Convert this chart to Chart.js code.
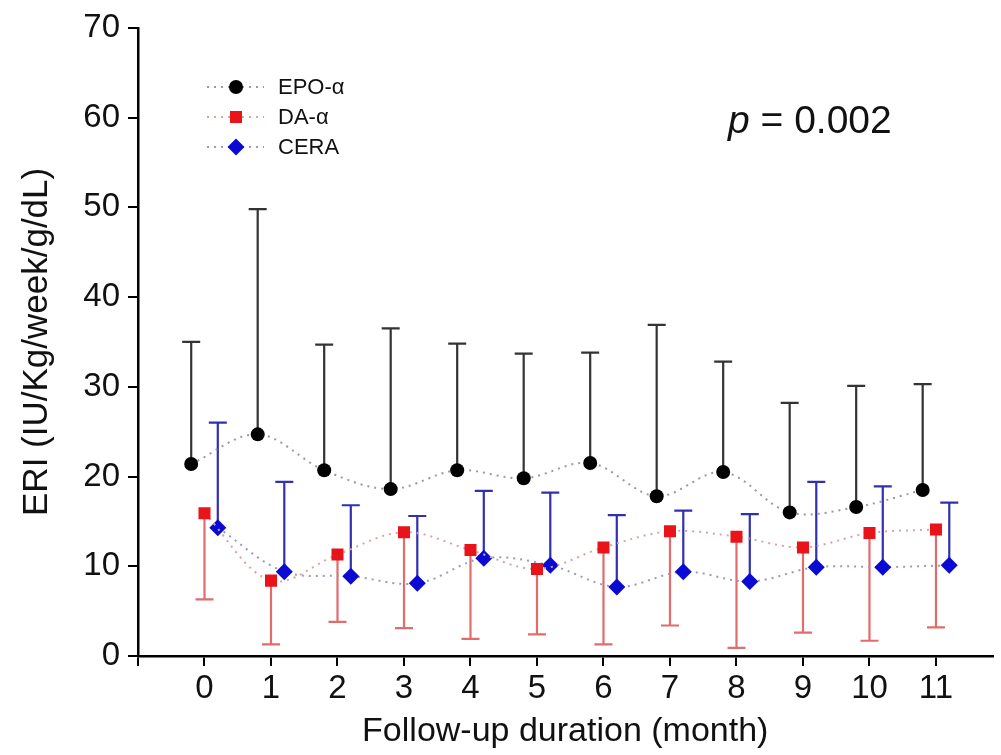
<!DOCTYPE html>
<html>
<head>
<meta charset="utf-8">
<script src="https://cdn.jsdelivr.net/npm/chart.js@4/dist/chart.umd.min.js"></script>
<style>
  html, body { margin: 0; padding: 0; background: #fff; }
  #chart { display: block; }
</style>
</head>
<body>
<canvas id="chart" width="1001" height="755"></canvas>
<script>
'use strict';

// Follow-up months and group values.
var months = [0, 1, 2, 3, 4, 5, 6, 7, 8, 9, 10, 11];
var epoMean  = [21.4, 24.7, 20.7, 18.6, 20.7, 19.8, 21.5, 17.8, 20.5, 16.0, 16.6, 18.5];
var epoUpper = [35.0, 49.8, 34.7, 36.5, 34.8, 33.7, 33.8, 36.9, 32.8, 28.2, 30.1, 30.3];
var daMean   = [15.9, 8.4, 11.3, 13.8, 11.8, 9.7, 12.1, 13.9, 13.3, 12.1, 13.7, 14.1];
var daLower  = [6.3, 1.3, 3.8, 3.1, 1.9, 2.4, 1.3, 3.4, 0.9, 2.6, 1.7, 3.2];
var ceraMean  = [14.3, 9.4, 8.9, 8.1, 10.9, 10.1, 7.7, 9.4, 8.3, 9.9, 9.9, 10.1];
var ceraUpper = [26.0, 19.4, 16.8, 15.6, 18.4, 18.2, 15.7, 16.2, 15.8, 19.4, 18.9, 17.1];
var yTicks = [0, 10, 20, 30, 40, 50, 60, 70];

var FONT = '"Liberation Sans", Arial, sans-serif';

// small horizontal dodge so the three groups don't overlap
function points(values, shift) {
  return values.map(function (v, i) { return { x: months[i] + shift, y: v }; });
}

var errorBars = {
  id: 'errorBars',
  beforeDatasetsDraw: function (chart) {
    var ctx = chart.ctx;
    var x = chart.scales.x, y = chart.scales.y;
    ctx.save();
    chart.data.datasets.forEach(function (ds) {
      ctx.strokeStyle = ds.errColor;
      ctx.lineWidth = 2.2;
      ds.errEnd.forEach(function (v, i) {
        var px = x.getPixelForValue(ds.data[i].x);
        var p0 = y.getPixelForValue(ds.data[i].y);
        var p1 = y.getPixelForValue(v);
        ctx.beginPath();
        ctx.moveTo(px, p0);
        ctx.lineTo(px, p1);
        ctx.moveTo(px - 9, p1);
        ctx.lineTo(px + 9, p1);
        ctx.stroke();
      });
    });
    ctx.restore();
  }
};

function drawMarker(ctx, style, r, cx, cy) {
  ctx.beginPath();
  if (style === 'circle') {
    ctx.arc(cx, cy, r, 0, Math.PI * 2);
  } else if (style === 'rect') {
    var s = r * Math.SQRT1_2;
    ctx.rect(cx - s, cy - s, s * 2, s * 2);
  } else {
    ctx.moveTo(cx, cy - r);
    ctx.lineTo(cx + r, cy);
    ctx.lineTo(cx, cy + r);
    ctx.lineTo(cx - r, cy);
    ctx.closePath();
  }
  ctx.fill();
}

// legend with dotted line + marker, and the p value note
var notes = {
  id: 'notes',
  afterDraw: function (chart) {
    var ctx = chart.ctx;
    ctx.save();
    chart.data.datasets.forEach(function (ds, i) {
      var ly = 87 + i * 30;
      ctx.strokeStyle = ds.borderColor;
      ctx.lineWidth = 2;
      ctx.setLineDash([2, 5]);
      ctx.beginPath();
      ctx.moveTo(207, ly);
      ctx.lineTo(264, ly);
      ctx.stroke();
      ctx.setLineDash([]);
      ctx.fillStyle = ds.pointBackgroundColor;
      drawMarker(ctx, ds.pointStyle, ds.pointRadius, 236, ly);
      ctx.fillStyle = '#111';
      ctx.font = '22px ' + FONT;
      ctx.textBaseline = 'middle';
      ctx.fillText(ds.label, 278, ly + 1);
    });
    ctx.textBaseline = 'alphabetic';
    ctx.font = 'italic 39px ' + FONT;
    ctx.fillText('p', 728, 133);
    var w = ctx.measureText('p').width;
    ctx.font = '39px ' + FONT;
    ctx.fillText(' = 0.002', 728 + w, 133);
    ctx.restore();
  }
};

new Chart(document.getElementById('chart'), {
  type: 'scatter',
  data: {
    datasets: [
      {
        label: 'EPO-\u03b1', data: points(epoMean, -0.2), errEnd: epoUpper, errColor: '#333333',
        showLine: true, tension: 0.35, borderColor: '#9a9a9a', borderWidth: 2, borderDash: [2, 5],
        pointStyle: 'circle', pointRadius: 7, pointBackgroundColor: '#000', pointBorderWidth: 0
      },
      {
        label: 'DA-\u03b1', data: points(daMean, 0), errEnd: daLower, errColor: '#e06c6c',
        showLine: true, tension: 0.35, borderColor: '#d9a3a3', borderWidth: 2, borderDash: [2, 5],
        pointStyle: 'rect', pointRadius: 8.5, pointBackgroundColor: '#e8141a', pointBorderWidth: 0
      },
      {
        label: 'CERA', data: points(ceraMean, 0.2), errEnd: ceraUpper, errColor: '#3030b0',
        showLine: true, tension: 0.35, borderColor: '#9a9ab8', borderWidth: 2, borderDash: [2, 5],
        pointStyle: 'rectRot', pointRadius: 8.5, pointBackgroundColor: '#0a0ad2', pointBorderWidth: 0
      }
    ]
  },
  options: {
    responsive: false,
    animation: false,
    devicePixelRatio: 1,
    layout: { padding: { top: 26, right: 1, left: 0, bottom: 0 } },
    plugins: { legend: { display: false }, tooltip: { enabled: false } },
    scales: {
      x: {
        type: 'linear', min: -1, max: 11.85,
        afterBuildTicks: function (scale) {
          scale.ticks = [{ value: -1 }].concat(months.map(function (m) { return { value: m }; }));
        },
        afterFit: function (scale) { scale.height = 99; },
        grid: { display: true, drawOnChartArea: false, drawTicks: true, tickLength: 10, color: '#000', lineWidth: 2 },
        border: { display: true, color: '#000', width: 2.5 },
        ticks: {
          padding: 3, color: '#111', font: { family: FONT, size: 33 },
          callback: function (v) { return v < 0 ? '' : String(v); }
        },
        title: {
          display: true, text: 'Follow-up duration (month)', color: '#111',
          font: { family: FONT, size: 34 }, padding: { top: 0, bottom: 3 }
        }
      },
      y: {
        min: 0, max: 70,
        afterBuildTicks: function (scale) {
          scale.ticks = yTicks.map(function (v) { return { value: v }; });
        },
        afterFit: function (scale) { scale.width = 138; },
        grid: { display: true, drawOnChartArea: false, drawTicks: true, tickLength: 10, color: '#000', lineWidth: 2 },
        border: { display: true, color: '#000', width: 2.5 },
        ticks: { padding: 8, color: '#111', font: { family: FONT, size: 33 } },
        title: {
          display: true, text: 'ERI (IU/Kg/week/g/dL)', color: '#111',
          font: { family: FONT, size: 35 }, padding: { top: 16, bottom: 0 }
        }
      }
    }
  },
  plugins: [errorBars, notes]
});
</script>
</body>
</html>
